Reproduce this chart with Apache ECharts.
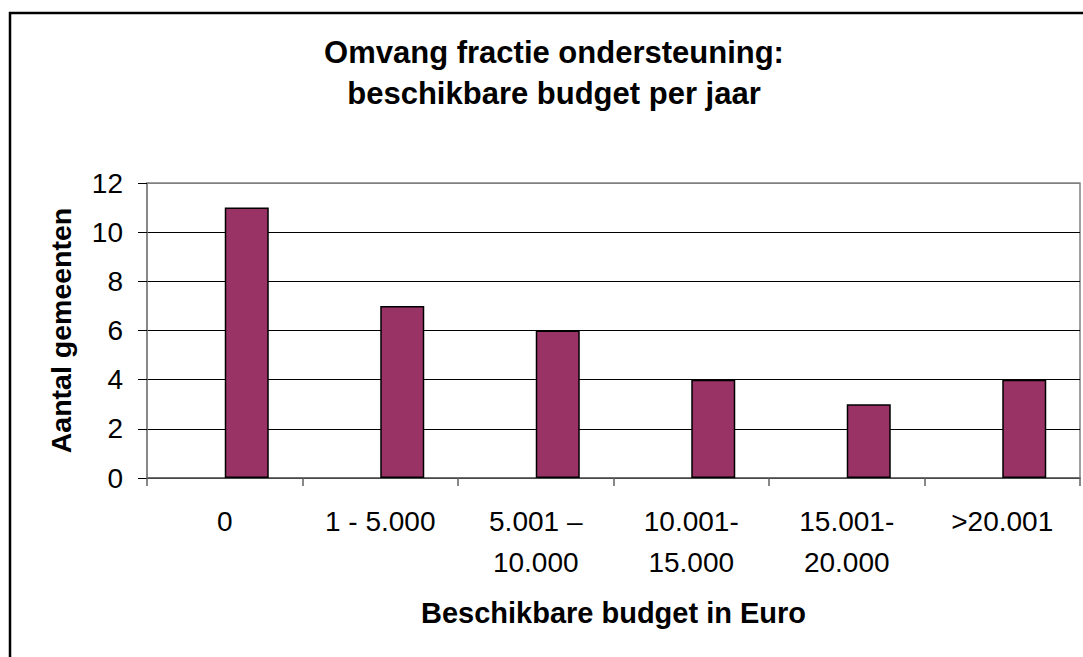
<!DOCTYPE html>
<html>
<head>
<meta charset="utf-8">
<script src="https://cdn.jsdelivr.net/npm/echarts@6/dist/echarts.min.js"></script>
<style>
html, body { margin: 0; padding: 0; background: #fff; }
#chart { width: 1083px; height: 657px; }
</style>
</head>
<body>
<div id="chart"></div>
<script>
// ---- data ----
const categories = ['0', '1 - 5.000', '5.001 –\n10.000', '10.001-\n15.000', '15.001-\n20.000', '>20.001'];
const aantalGemeenten = [11, 7, 6, 4, 3, 4];
const emptySeries = [null, null, null, null, null, null];
const yTicks = [0, 2, 4, 6, 8, 10, 12];
const titleText = 'Omvang fractie ondersteuning:\nbeschikbare budget per jaar';
const xAxisName = 'Beschikbare budget in Euro';
const yAxisName = 'Aantal gemeenten';

const FONT = '"Liberation Sans", Arial, Helvetica, sans-serif';
const chart = echarts.init(document.getElementById('chart'), null, { renderer: 'svg' });

const gridColors = yTicks.map((v, i) => (i === yTicks.length - 1 ? '#808080' : '#000000'));

chart.setOption({
  backgroundColor: '#ffffff',
  animation: false,
  graphic: [
    {
      type: 'rect', z: 0, silent: true,
      shape: { x: 10, y: 13, width: 1200, height: 800 },
      style: { fill: 'none', stroke: '#000', lineWidth: 2.5 }
    },
    {
      type: 'text', z: 10, x: 554, y: 32,
      style: {
        text: titleText, textAlign: 'center', textVerticalAlign: 'top',
        fontFamily: FONT, fontSize: 31, fontWeight: 'bold', lineHeight: 41, fill: '#000'
      }
    }
  ],
  grid: {
    left: 147, right: 3, top: 183, bottom: 179,
    show: true, borderColor: '#808080', borderWidth: 1.5, backgroundColor: 'transparent'
  },
  xAxis: {
    type: 'category',
    data: categories,
    name: xAxisName,
    nameLocation: 'middle',
    nameGap: 120,
    nameTextStyle: { fontFamily: FONT, fontSize: 29, fontWeight: 'bold', color: '#000' },
    axisLine: { show: true, lineStyle: { color: '#606060', width: 1.5 } },
    axisTick: { show: true, length: 8, lineStyle: { color: '#606060', width: 1.5 } },
    axisLabel: {
      interval: 0, margin: 23, fontFamily: FONT, fontSize: 28, lineHeight: 41, color: '#000'
    },
    splitLine: { show: false }
  },
  yAxis: {
    type: 'value',
    min: 0, max: 12, interval: 2,
    name: yAxisName,
    nameLocation: 'middle',
    nameRotate: 90,
    nameGap: 72,
    nameTextStyle: { fontFamily: FONT, fontSize: 28.5, fontWeight: 'bold', color: '#000' },
    axisLine: { show: true, lineStyle: { color: '#808080', width: 1.5 } },
    axisTick: { show: true, length: 9, lineStyle: { color: '#000', width: 1 } },
    axisLabel: { margin: 24, fontFamily: FONT, fontSize: 28, color: '#000' },
    splitLine: { show: true, lineStyle: { color: gridColors, width: 1.2 } }
  },
  series: [
    {
      type: 'bar', name: 'leeg', data: emptySeries,
      barGap: '0%', barCategoryGap: '43.4%'
    },
    {
      type: 'bar', name: yAxisName, data: aantalGemeenten,
      barGap: '0%', barCategoryGap: '43.4%',
      itemStyle: { color: '#993366', borderColor: '#000', borderWidth: 1.5 }
    }
  ]
});
</script>
</body>
</html>
